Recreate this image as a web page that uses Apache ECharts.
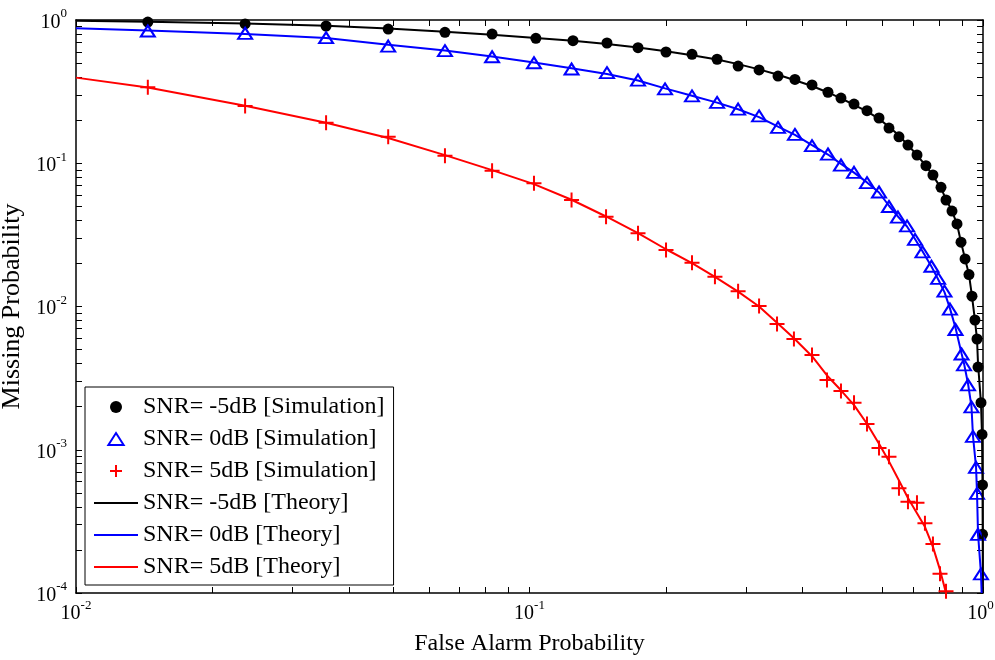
<!DOCTYPE html>
<html>
<head>
<meta charset="utf-8">
<script src="https://cdn.jsdelivr.net/npm/echarts@6/dist/echarts.min.js"></script>
<style>html,body{margin:0;padding:0;background:#fff;}#chart{width:995px;height:660px;}</style>
</head>
<body>
<div id="chart"></div>
<script>
// ---- data ----
const legendNames = [
  'SNR= -5dB [Simulation]', 'SNR= 0dB [Simulation]', 'SNR= 5dB [Simulation]',
  'SNR= -5dB [Theory]', 'SNR= 0dB [Theory]', 'SNR= 5dB [Theory]'
];

const pfaBlackSim = [0.0144,0.0236,0.0356,0.0488,0.0651,0.0827,0.1033,0.1247,0.1482,0.1735,0.2000,0.2282,0.2592,0.2884,0.3208,0.3532,0.3849,0.4197,0.4552,0.4862,0.5195,0.5549,0.5898,0.6204,0.6527,0.6832,0.7152,0.7485,0.7756,0.8080,0.8288,0.8543,0.8763,0.8944,0.913,0.9313,0.9456,0.960,0.9701,0.975,0.9899,0.995,0.9975,0.9975];
const pmBlackSim  = [0.968,0.938,0.908,0.865,0.821,0.798,0.745,0.717,0.691,0.641,0.598,0.576,0.532,0.477,0.448,0.406,0.385,0.352,0.313,0.285,0.259,0.233,0.207,0.176,0.153,0.134,0.1142,0.0961,0.0828,0.0679,0.0554,0.0464,0.0377,0.0281,0.0215,0.0167,0.0118,0.00805,0.00593,0.00378,0.00213,0.00128,0.000568,0.000257];

const pfaBlueSim = [0.0144,0.0236,0.0356,0.0488,0.0651,0.0827,0.1023,0.1238,0.1482,0.1735,0.1990,0.2282,0.2592,0.2884,0.3208,0.3532,0.3849,0.4197,0.4552,0.4862,0.5195,0.5549,0.5898,0.6204,0.6494,0.680,0.708,0.7355,0.7697,0.7961,0.8223,0.8455,0.8697,0.8968,0.9081,0.9267,0.9432,0.9504,0.9652,0.9701,0.975,0.9899];
const pmBlueSim  = [0.838,0.808,0.752,0.658,0.611,0.554,0.503,0.455,0.429,0.381,0.330,0.295,0.266,0.239,0.214,0.178,0.159,0.1326,0.116,0.0972,0.0865,0.0732,0.063,0.0499,0.0421,0.0365,0.0294,0.0241,0.0191,0.0157,0.0128,0.0096,0.00691,0.00466,0.00391,0.00284,0.00199,0.00124,0.000754,0.000496,0.000257,0.000136];

const pfaRedSim = [0.0144,0.0236,0.0356,0.0488,0.0651,0.0827,0.1023,0.1238,0.1475,0.1735,0.2000,0.2282,0.2564,0.2884,0.3208,0.3514,0.3829,0.4197,0.4529,0.4862,0.5195,0.5549,0.5898,0.6204,0.6527,0.6832,0.7152,0.7447,0.7756,0.8039,0.8288];
const pmRedSim  = [0.339,0.251,0.192,0.153,0.1129,0.0887,0.0724,0.0554,0.0423,0.0324,0.0248,0.0202,0.0161,0.0128,0.0101,0.00755,0.00593,0.00459,0.00307,0.00257,0.00213,0.00151,0.00103,0.000894,0.000538,0.000434,0.000427,0.000307,0.000220,0.000136,0.000103];

const pfaBlackTh = [0.01,0.0144,0.0236,0.0356,0.0488,0.0651,0.0827,0.1033,0.1247,0.1482,0.1735,0.2000,0.2282,0.2592,0.2884,0.3208,0.3532,0.3849,0.4197,0.4552,0.4862,0.5195,0.5549,0.5898,0.6204,0.6527,0.6832,0.7152,0.7485,0.7756,0.8080,0.8288,0.8543,0.8763,0.8944,0.913,0.9313,0.9456,0.960,0.9701,0.975,0.9899,0.995,0.9975,0.9985,0.999];
const pmBlackTh  = [0.99,0.972,0.945,0.912,0.872,0.828,0.790,0.750,0.715,0.680,0.642,0.605,0.568,0.530,0.492,0.452,0.415,0.380,0.346,0.312,0.284,0.256,0.230,0.204,0.180,0.156,0.134,0.114,0.096,0.082,0.067,0.056,0.0464,0.0377,0.0281,0.0215,0.0167,0.0118,0.0080,0.0059,0.0040,0.0021,0.00128,0.00057,0.00026,0.0001];

const pfaBlueTh = [0.01,0.0144,0.0236,0.0356,0.0488,0.0651,0.0827,0.1023,0.1238,0.1482,0.1735,0.1990,0.2282,0.2592,0.2884,0.3208,0.3532,0.3849,0.4197,0.4552,0.4862,0.5195,0.5549,0.5898,0.6204,0.6494,0.680,0.708,0.7355,0.7697,0.7961,0.8223,0.8455,0.8697,0.8968,0.9081,0.9267,0.9432,0.9504,0.9652,0.9701,0.975,0.9899,0.993];
const pmBlueTh  = [0.875,0.845,0.800,0.748,0.672,0.612,0.556,0.505,0.460,0.420,0.378,0.333,0.296,0.265,0.238,0.210,0.180,0.158,0.134,0.115,0.099,0.086,0.0735,0.0625,0.0505,0.0425,0.0362,0.0296,0.0243,0.0190,0.0155,0.0126,0.0097,0.0071,0.0047,0.0040,0.0029,0.0020,0.00125,0.00076,0.00050,0.00026,0.000136,0.0001];

const pfaRedTh = [0.01,0.0144,0.0236,0.0356,0.0488,0.0651,0.0827,0.1023,0.1238,0.1475,0.1735,0.2000,0.2282,0.2564,0.2884,0.3208,0.3514,0.3829,0.4197,0.4529,0.4862,0.5195,0.5549,0.5898,0.6204,0.6527,0.6832,0.7152,0.7447,0.7756,0.8039,0.8288];
const pmRedTh  = [0.396,0.338,0.252,0.192,0.150,0.114,0.0895,0.0715,0.0556,0.0425,0.0325,0.0251,0.0201,0.0161,0.0127,0.0100,0.0077,0.0060,0.0045,0.0033,0.0026,0.00205,0.00152,0.00110,0.00083,0.00061,0.00046,0.00036,0.00029,0.00021,0.000145,0.0001];

const xTickLabels = [0.01, 0.1, 1];
const yTickLabels = [0.0001, 0.001, 0.01, 0.1, 1];
const xTicks = [0.01,0.02,0.03,0.04,0.05,0.06,0.07,0.08,0.09,0.1,0.2,0.3,0.4,0.5,0.6,0.7,0.8,0.9,1];
const yTicks = [0.0001,0.0002,0.0003,0.0004,0.0005,0.0006,0.0007,0.0008,0.0009,
                0.001,0.002,0.003,0.004,0.005,0.006,0.007,0.008,0.009,
                0.01,0.02,0.03,0.04,0.05,0.06,0.07,0.08,0.09,
                0.1,0.2,0.3,0.4,0.5,0.6,0.7,0.8,0.9,1];

// ---- chart ----
const FONT = 'Liberation Serif';
const pairs = (xs, ys) => xs.map((x, i) => [x, ys[i]]);
const expOf = v => Math.round(Math.log10(v));
const yLabel = v => '{b|10}{s|' + expOf(v) + '}';
const xLabel = v => '{b|10}{' + (expOf(v) === 0 ? 'se' : 's') + '|' + expOf(v) + '}';
const rich = {
  b: {fontFamily: FONT, fontSize: 20, color: '#000', lineHeight: 25, verticalAlign: 'bottom'},
  s: {fontFamily: FONT, fontSize: 13, color: '#000', lineHeight: 13, verticalAlign: 'top'},
  se: {fontFamily: FONT, fontSize: 13, color: '#000', lineHeight: 13, verticalAlign: 'top', padding: [0, 5, 0, 0]}
};
const axisLine = {show: true, onZero: false, lineStyle: {color: '#000', width: 1.5}};

function xAx(pos, withLabels) {
  return {
    type: 'log', logBase: 10, min: 0.01, max: 1, position: pos,
    axisLine: axisLine,
    axisTick: {show: true, inside: true, length: 6, customValues: xTicks, lineStyle: {color: '#000', width: 1}},
    minorTick: {show: false},
    splitLine: {show: false},
    axisLabel: withLabels ? {show: true, customValues: xTickLabels, formatter: xLabel, rich: rich, margin: 6} : {show: false},
    name: withLabels ? 'False Alarm Probability' : '',
    nameLocation: 'middle', nameGap: 39,
    nameTextStyle: {fontFamily: FONT, fontSize: 24, color: '#000'}
  };
}
function yAx(pos, withLabels) {
  return {
    type: 'log', logBase: 10, min: 0.0001, max: 1, position: pos,
    axisLine: axisLine,
    axisTick: {show: true, inside: true, length: 6, customValues: yTicks, lineStyle: {color: '#000', width: 1}},
    minorTick: {show: false},
    splitLine: {show: false},
    axisLabel: withLabels ? {show: true, customValues: yTickLabels, formatter: yLabel, rich: rich, margin: 9} : {show: false},
    name: withLabels ? 'Missing Probability' : '',
    nameLocation: 'middle', nameGap: 41, nameRotate: 90,
    nameTextStyle: {fontFamily: FONT, fontSize: 26, color: '#000'}
  };
}

const plusPath = 'path://M5,0L5,10M0,5L10,5';
const triIcon = 'path://M7,0L14,11L0,11Z';
const lineIcon = 'path://M0,0H44V2.2H0Z';

const option = {
  animation: false,
  backgroundColor: '#fff',
  grid: {left: 76, right: 12, top: 20, bottom: 67, containLabel: false, outerBoundsMode: 'none'},
  xAxis: [xAx('bottom', true), xAx('top', false)],
  yAxis: [yAx('left', true), yAx('right', false)],
  legend: {
    orient: 'vertical', left: 85, top: 387,
    padding: [8, 9, 6, 9], itemGap: 8, itemWidth: 44, itemHeight: 12,
    symbolKeepAspect: true,
    backgroundColor: '#fff', borderColor: '#000', borderWidth: 1, borderRadius: 0,
    textStyle: {fontFamily: FONT, fontSize: 24, color: '#000'},
    data: [
      {name: legendNames[0], icon: 'circle'},
      {name: legendNames[1], icon: triIcon},
      {name: legendNames[2], icon: plusPath},
      {name: legendNames[3], icon: lineIcon},
      {name: legendNames[4], icon: lineIcon},
      {name: legendNames[5], icon: lineIcon}
    ]
  },
  series: [
    {name: legendNames[0], type: 'scatter', data: pairs(pfaBlackSim, pmBlackSim),
     symbol: 'circle', symbolSize: 11, itemStyle: {color: '#000', opacity: 1}, z: 3},
    {name: legendNames[1], type: 'scatter', data: pairs(pfaBlueSim, pmBlueSim),
     symbol: 'triangle', symbolSize: [14, 11],
     itemStyle: {color: 'rgba(255,255,255,0)', borderColor: '#0000ff', borderWidth: 2, opacity: 1}, z: 3},
    {name: legendNames[2], type: 'scatter', data: pairs(pfaRedSim, pmRedSim),
     symbol: plusPath, symbolSize: 15,
     itemStyle: {color: '#ff0000', borderColor: '#ff0000', borderWidth: 2, opacity: 1}, z: 3},
    {name: legendNames[3], type: 'line', data: pairs(pfaBlackTh, pmBlackTh), symbol: 'none',
     lineStyle: {color: '#000', width: 2}, itemStyle: {color: '#000'}, z: 4},
    {name: legendNames[4], type: 'line', data: pairs(pfaBlueTh, pmBlueTh), symbol: 'none',
     lineStyle: {color: '#0000ff', width: 2}, itemStyle: {color: '#0000ff'}, z: 4},
    {name: legendNames[5], type: 'line', data: pairs(pfaRedTh, pmRedTh), symbol: 'none',
     lineStyle: {color: '#ff0000', width: 2}, itemStyle: {color: '#ff0000'}, z: 4}
  ]
};

const chart = echarts.init(document.getElementById('chart'), null, {renderer: 'canvas'});
chart.setOption(option);
</script>
</body>
</html>
